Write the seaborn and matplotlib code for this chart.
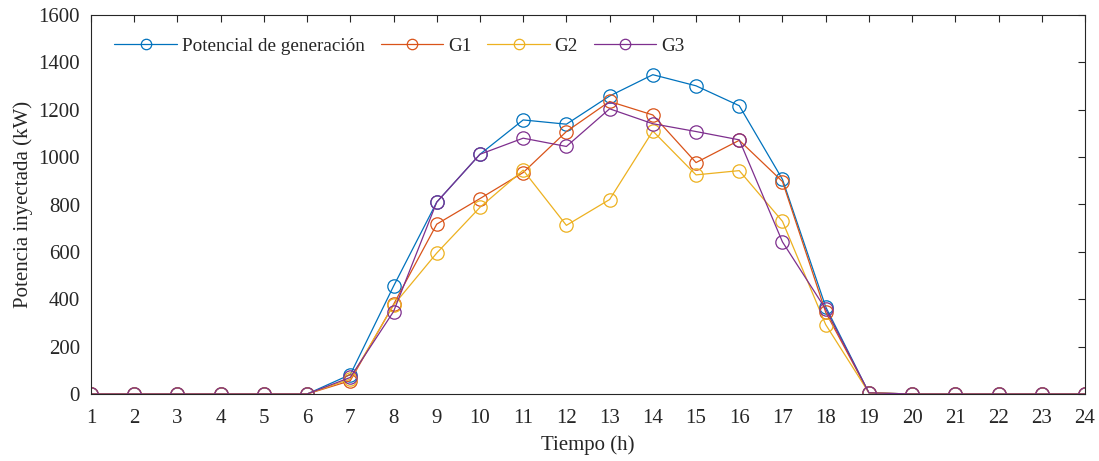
import numpy as np
import pandas as pd
import matplotlib
matplotlib.use("Agg")
import matplotlib.pyplot as plt
import seaborn as sns

hours = list(range(1, 25))

potencial = [0, 0, 0, 0, 0, 0, 82, 455, 810, 1012, 1157, 1139, 1258, 1348, 1301, 1217, 906, 368, 5, 0, 0, 0, 0, 0]
g1 = [0, 0, 0, 0, 0, 0, 56, 378, 717, 825, 935, 1108, 1235, 1178, 977, 1071, 897, 345, 5, 0, 0, 0, 0, 0]
g2 = [0, 0, 0, 0, 0, 0, 63, 375, 595, 788, 945, 712, 821, 1110, 925, 943, 729, 293, 5, 0, 0, 0, 0, 0]
g3 = [0, 0, 0, 0, 0, 0, 70, 348, 810, 1012, 1080, 1045, 1204, 1141, 1108, 1073, 642, 358, 5, 0, 0, 0, 0, 0]

series_names = ["Potencial de generación", "G1", "G2", "G3"]
series_values = [potencial, g1, g2, g3]
colors = ["#0072BD", "#D95319", "#EDB120", "#7E2F8E"]

yticks = [0, 200, 400, 600, 800, 1000, 1200, 1400, 1600]

sns.set_theme(style="white")
plt.rcParams["font.family"] = ["Liberation Serif", "DejaVu Serif"]

fig = plt.figure(figsize=(10.99, 4.61), dpi=100)
ax = fig.add_axes([91 / 1099, 1 - 394 / 461, (1085 - 91) / 1099, (394 - 15) / 461])

for name, vals, c in zip(series_names, series_values, colors):
    sns.lineplot(x=hours, y=vals, ax=ax, color=c, linewidth=0.9,
                 marker="o", markersize=9.6, markerfacecolor="none",
                 markeredgecolor=c, markeredgewidth=0.9, label=name)

ax.set_xlim(1, 24)
ax.set_ylim(0, 1600)
ax.set_xticks(hours)
ax.set_yticks(yticks)
ax.tick_params(axis="both", which="both", direction="in", length=5, width=0.8,
               colors="#262626", labelsize=15, top=True, right=True,
               labelcolor="#262626")
ax.tick_params(axis="x", pad=11)
ax.tick_params(axis="y", pad=8)
for sp in ax.spines.values():
    sp.set_color("#262626")
    sp.set_linewidth(0.8)
    sp.set_visible(True)

ax.set_xlabel("Tiempo (h)", fontsize=15, color="#262626", labelpad=5)
ax.set_ylabel("Potencia inyectada (kW)", fontsize=15, color="#262626", labelpad=4)

leg = ax.legend(loc="upper left", ncol=4, frameon=False, fontsize=13.8,
                handlelength=3.25, handletextpad=0.25, columnspacing=0.85,
                bbox_to_anchor=(0.012, 0.972), borderaxespad=0.2)
for h in leg.legend_handles:
    h.set_markersize(7.5)

fig.savefig("out.png", dpi=100)
